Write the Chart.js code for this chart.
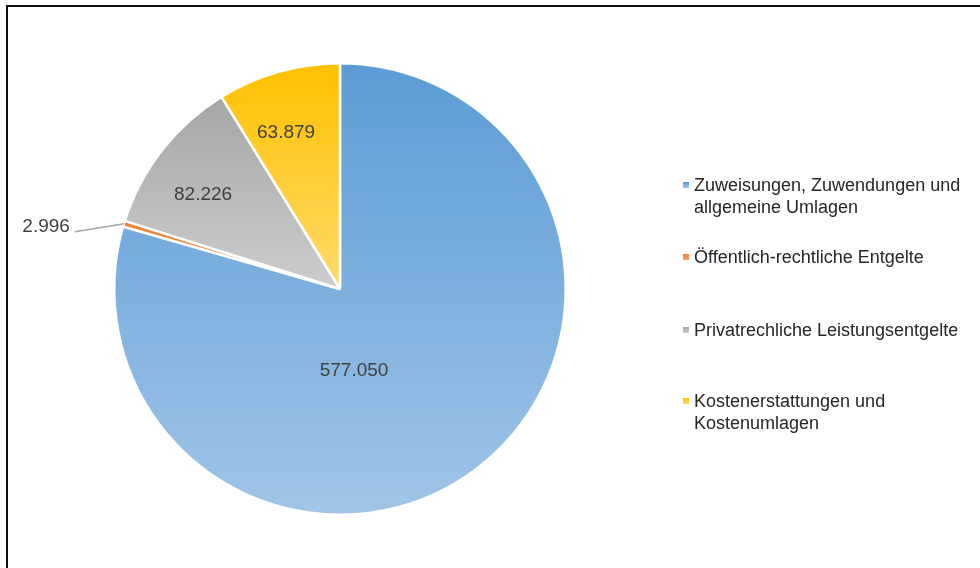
<!DOCTYPE html>
<html>
<head>
<meta charset="utf-8">
<script src="https://cdn.jsdelivr.net/npm/chart.js@4.4.0/dist/chart.umd.min.js"></script>
<style>
  html, body { margin:0; padding:0; background:#fff; }
  body { width:980px; height:568px; position:relative; overflow:hidden; font-family:"Liberation Sans", Arial, sans-serif; }
  #frame { position:absolute; left:6px; top:5px; width:1200px; height:800px; border-left:2px solid #111; border-top:2px solid #111; }
  #wrap { position:absolute; left:0; top:0; width:980px; height:568px; }
  #legend { position:absolute; left:0; top:0; }
  .item { position:absolute; left:683px; width:295px; font-size:18px; line-height:21.5px; color:#262626; }
  .item .sw { position:absolute; left:0; top:7px; width:6px; height:6px; }
  .item .tx { margin-left:11px; width:280px; }
</style>
</head>
<body>
<div id="frame"></div>
<div id="wrap"><canvas id="pie" width="980" height="568"></canvas></div>
<div id="legend"></div>
<script>
const labels = [
  "Zuweisungen, Zuwendungen und allgemeine Umlagen",
  "Öffentlich-rechtliche Entgelte",
  "Privatrechliche Leistungsentgelte",
  "Kostenerstattungen und Kostenumlagen"
];
const values = [577050, 2996, 82226, 63879];

// gradient top/bottom per slice
const colTop = ["#5b9bd5", "#ed7d31", "#a5a5a5", "#ffc000"];
const colBottom = ["#a0c5e8", "#f4a46e", "#cdcdcd", "#ffda6a"];

// where the value labels sit: fraction of radius + angle shift from slice middle (deg)
const LABEL_POS = [
  { frac: 0.36, shift: 27 },
  { outside: true },
  { frac: 0.74, shift: -3 },
  { frac: 0.74, shift: -3 }
];
// legend rows, top of first text line
const LEGEND_TOP = [175, 247, 320, 391];

function fmt(n){ return Number(n).toLocaleString("de-DE"); }

function sliceBox(cx, cy, r, a0, a1){
  // vertical extent of an arc slice
  let ys = [cy, cy + r*Math.sin(a0), cy + r*Math.sin(a1)];
  for (let k = -4; k <= 4; k++){
    const a = Math.PI/2 + k*Math.PI;
    if (a > a0 && a < a1) ys.push(cy + r*Math.sin(a));
  }
  return { top: Math.min(...ys), bottom: Math.max(...ys) };
}

function sliceColor(ctx){
  const chart = ctx.chart;
  const area = chart.chartArea;
  const i = ctx.dataIndex;
  if (!area) return colTop[i];
  const cx = (area.left + area.right)/2;
  const cy = (area.top + area.bottom)/2;
  const r = Math.min(area.right - area.left, area.bottom - area.top)/2;
  const total = values.reduce((a,b)=>a+b,0);
  let before = 0;
  for (let k = 0; k < i; k++) before += values[k];
  const a0 = -Math.PI/2 + 2*Math.PI*before/total;
  const a1 = a0 + 2*Math.PI*values[i]/total;
  const box = sliceBox(cx, cy, r, a0, a1);
  const g = chart.ctx.createLinearGradient(0, box.top, 0, box.bottom);
  g.addColorStop(0, colTop[i]);
  g.addColorStop(1, colBottom[i]);
  return g;
}

const valueLabels = {
  id: "valueLabels",
  afterDatasetsDraw(chart){
    const c = chart.ctx;
    const arcs = chart.getDatasetMeta(0).data;
    c.save();
    c.font = '19px "Liberation Sans", Arial, sans-serif';
    c.fillStyle = "#404040";
    c.textBaseline = "middle";
    arcs.forEach((arc, i)=>{
      const p = arc.getProps(["x","y","startAngle","endAngle","outerRadius"], true);
      const mid = (p.startAngle + p.endAngle)/2;
      const pos = LABEL_POS[i];
      if (pos.outside){
        const ex = p.x + Math.cos(mid)*p.outerRadius;
        const ey = p.y + Math.sin(mid)*p.outerRadius;
        c.strokeStyle = "#a6a6a6";
        c.lineWidth = 1.5;
        c.beginPath();
        c.moveTo(ex - 49, ey + 8);
        c.lineTo(ex, ey);
        c.stroke();
        c.textAlign = "right";
        c.fillText(fmt(values[i]), ex - 54, ey + 3);
      } else {
        const a = mid + pos.shift*Math.PI/180;
        const r = p.outerRadius*pos.frac;
        c.textAlign = "center";
        c.fillText(fmt(values[i]), p.x + Math.cos(a)*r, p.y + Math.sin(a)*r + 1.5);
      }
    });
    c.restore();
  }
};

new Chart(document.getElementById("pie"), {
  type: "pie",
  data: {
    labels: labels,
    datasets: [{
      data: values,
      backgroundColor: sliceColor,
      borderColor: "#ffffff",
      borderWidth: 2.5
    }]
  },
  options: {
    responsive: false,
    animation: false,
    layout: { padding: { left: 113, right: 413, top: 62, bottom: 52 } },
    plugins: { legend: { display: false }, tooltip: { enabled: false } }
  },
  plugins: [valueLabels]
});

// legend
const leg = document.getElementById("legend");
labels.forEach((l, i)=>{
  const d = document.createElement("div");
  d.className = "item";
  d.style.top = LEGEND_TOP[i] + "px";
  d.innerHTML = `<div class="sw" style="background:linear-gradient(${colTop[i]},${colBottom[i]})"></div><div class="tx">${l}</div>`;
  leg.appendChild(d);
});
</script>
</body>
</html>
